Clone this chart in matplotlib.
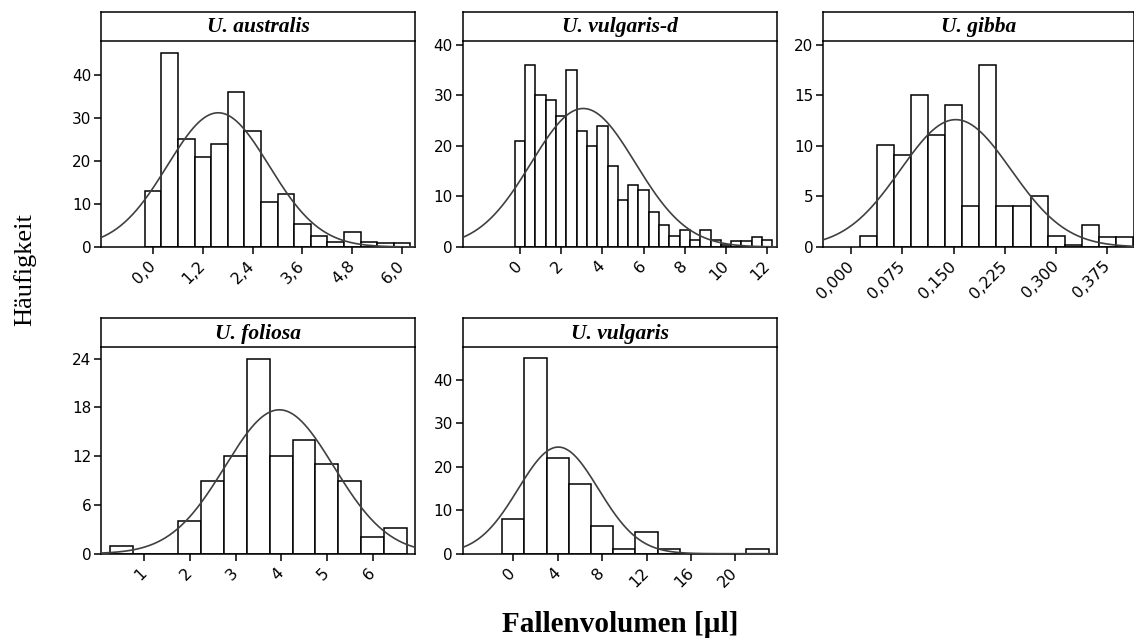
import numpy as np
import matplotlib
matplotlib.use("Agg")
import matplotlib.pyplot as plt

# ---- data ----
titles = ["U. australis", "U. vulgaris-d", "U. gibba", "U. foliosa", "U. vulgaris"]

aus_centers = [0.0, 0.4, 0.8, 1.2, 1.6, 2.0, 2.4, 2.8, 3.2, 3.6, 4.0, 4.4, 4.8, 5.2, 5.6, 6.0]
aus_counts = [13, 45, 25, 21, 24, 36, 27, 10.5, 12.3, 5.3, 2.6, 1.1, 3.4, 1.1, 1.0, 1.0]
aus_width = 0.4
aus_fit = (1.57, 1.225, 31.2)  # mean, sd, peak

vd_centers = [0.0, 0.5, 1.0, 1.5, 2.0, 2.5, 3.0, 3.5, 4.0, 4.5, 5.0, 5.5, 6.0,
              6.5, 7.0, 7.5, 8.0, 8.5, 9.0, 9.5, 10.0, 10.5, 11.0, 11.5, 12.0]
vd_counts = [21, 36, 30, 29, 26, 35, 23, 20, 24, 16, 9.3, 12.3, 11.2,
             7.0, 4.4, 2.2, 3.4, 1.4, 3.4, 1.3, 0.3, 1.2, 1.2, 1.9, 1.3]
vd_width = 0.5
vd_fit = (3.07, 2.53, 27.4)

gib_centers = [0.025, 0.05, 0.075, 0.1, 0.125, 0.15, 0.175, 0.2, 0.225, 0.25,
               0.275, 0.3, 0.325, 0.35, 0.375, 0.4]
gib_counts = [1.1, 10.1, 9.1, 15, 11.1, 14, 4.1, 18, 4.1, 4.1, 5, 1.1, 0.15, 2.2, 1.0, 1.0]
gib_width = 0.025
gib_fit = (0.153, 0.081, 12.6)

fol_centers = [0.5, 1.0, 1.5, 2.0, 2.5, 3.0, 3.5, 4.0, 4.5, 5.0, 5.5, 6.0, 6.5]
fol_counts = [1.0, 0, 0, 4, 9, 12, 24, 12, 14, 11, 9, 2.1, 3.1]
fol_width = 0.5
fol_fit = (3.96, 1.19, 17.7)

vul_centers = [0, 2, 4, 6, 8, 10, 12, 14, 16, 18, 20, 22]
vul_counts = [8, 45, 22, 16, 6.3, 1.05, 5, 1, 0, 0, 0, 1]
vul_width = 2
vul_fit = (4.05, 3.62, 24.5)

aus_xticks = [0.0, 1.2, 2.4, 3.6, 4.8, 6.0]
aus_xlabels = ["0,0", "1,2", "2,4", "3,6", "4,8", "6,0"]
vd_xticks = [0, 2, 4, 6, 8, 10, 12]
vd_xlabels = ["0", "2", "4", "6", "8", "10", "12"]
gib_xticks = [0.0, 0.075, 0.15, 0.225, 0.3, 0.375]
gib_xlabels = ["0,000", "0,075", "0,150", "0,225", "0,300", "0,375"]
fol_xticks = [1, 2, 3, 4, 5, 6]
fol_xlabels = ["1", "2", "3", "4", "5", "6"]
vul_xticks = [0, 4, 8, 12, 16, 20]
vul_xlabels = ["0", "4", "8", "12", "16", "20"]

aus_yticks = [0, 10, 20, 30, 40]
vd_yticks = [0, 10, 20, 30, 40]
gib_yticks = [0, 5, 10, 15, 20]
fol_yticks = [0, 6, 12, 18, 24]
vul_yticks = [0, 10, 20, 30, 40]

panels = [
    (aus_centers, aus_counts, aus_width, aus_fit, aus_xticks, aus_xlabels, aus_yticks, (-1.253, 6.31), (0, 48.0)),
    (vd_centers, vd_counts, vd_width, vd_fit, vd_xticks, vd_xlabels, vd_yticks, (-2.78, 12.46), (0, 40.85)),
    (gib_centers, gib_counts, gib_width, gib_fit, gib_xticks, gib_xlabels, gib_yticks, (-0.041, 0.4141), (0, 20.43)),
    (fol_centers, fol_counts, fol_width, fol_fit, fol_xticks, fol_xlabels, fol_yticks, (0.054, 6.93), (0, 25.4)),
    (vul_centers, vul_counts, vul_width, vul_fit, vul_xticks, vul_xlabels, vul_yticks, (-4.56, 23.72), (0, 47.45)),
]

# ---- layout ----
W, H = 1134, 643
fig = plt.figure(figsize=(W / 100, H / 100), dpi=100)
lefts = [101 / W, 462.7 / W, 823.3 / W, 101 / W, 462.7 / W]
widths = [314 / W, 314 / W, (1134 - 823.3) / W, 314 / W, 314 / W]
bottoms = [1 - 247 / H, 1 - 247 / H, 1 - 247 / H, 1 - 553.7 / H, 1 - 553.7 / H]
ph = 206.5 / H
sh = 29 / H
lw = 1.1

for i, (cen, cnt, bw, fit, xt, xl, yt, xlim, ylim) in enumerate(panels):
    ax = fig.add_axes([lefts[i], bottoms[i], widths[i], ph])
    ax.bar(cen, cnt, width=bw, align="center", facecolor="white",
           edgecolor="black", linewidth=lw, zorder=2)
    m, s, pk = fit
    xs = np.linspace(xlim[0], xlim[1], 400)
    ax.plot(xs, pk * np.exp(-(xs - m) ** 2 / (2 * s ** 2)), color="#404040",
            linewidth=1.2, zorder=3)
    ax.set_xlim(*xlim)
    ax.set_ylim(*ylim)
    ax.set_xticks(xt)
    ax.set_xticklabels(xl)
    ax.set_yticks(yt)
    ax.set_yticklabels([str(v) for v in yt])
    ax.tick_params(axis="both", direction="out", length=5, width=lw,
                   colors="black")
    ax.tick_params(axis="y", labelsize=11, pad=2)
    ax.tick_params(axis="x", labelsize=11.5, pad=7)
    for lab in ax.get_xticklabels():
        lab.set_rotation(45)
        lab.set_ha("right")
        lab.set_va("center")
        lab.set_rotation_mode("anchor")
    for sp in ax.spines.values():
        sp.set_linewidth(lw)
    ax.spines["top"].set_visible(False)

    sax = fig.add_axes([lefts[i], bottoms[i] + ph, widths[i], sh])
    sax.set_xticks([])
    sax.set_yticks([])
    for sp in sax.spines.values():
        sp.set_linewidth(lw)
    sax.text(0.5, 0.45, titles[i], transform=sax.transAxes, ha="center",
             va="center", fontsize=15.5, fontweight="bold", fontstyle="italic",
             family="Liberation Serif")

fig.text(25 / W, 1 - 270 / H, "Häufigkeit", rotation=90, ha="center", va="center",
         fontsize=19, family="Liberation Serif")
fig.text(620 / W, 1 - 625 / H, "Fallenvolumen [µl]", ha="center", va="center",
         fontsize=21, fontweight="bold", family="Liberation Serif")

fig.savefig("out.png", dpi=100)
